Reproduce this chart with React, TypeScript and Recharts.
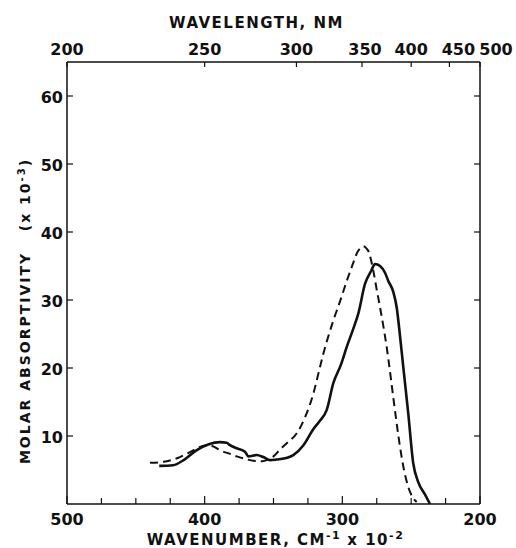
import React from "react";
import { LineChart, Line, XAxis, YAxis, Label } from "recharts";

// ---- data ----
const solidWavenumber = [433, 423, 415, 406, 397, 389, 384, 381.6, 376.7, 370.7, 368.3, 362.2, 357.4, 352.5, 347.7, 340, 335.6, 328.4, 321.1, 316, 311.4, 306.5, 301, 296.8, 292, 288.4, 283.5, 279, 276.3, 272.6, 269, 266.6, 263, 260.5, 258, 255.7, 252.1, 248.5, 245, 240, 236.3];
const solidAbsorptivity = [5.6, 5.7, 6.5, 7.9, 8.8, 9.1, 9.0, 8.65, 8.2, 7.7, 7.0, 7.2, 6.9, 6.45, 6.55, 6.8, 7.2, 8.6, 11.0, 12.3, 13.8, 17.8, 20.5, 23.1, 25.8, 28, 32.4, 34.3, 35.3, 35.0, 34.0, 32.8, 31.2, 28.9, 24.5, 20.1, 13.3, 6.0, 3.3, 1.4, 0];

const dashedWavenumber = [439.7, 430, 418, 410, 403.4, 397.4, 393, 388.9, 382, 376.7, 370, 364.7, 358, 354.9, 350, 345.3, 340, 333.1, 327, 321.1, 317, 313.8, 306.5, 301, 296.8, 292, 289.6, 286.5, 284.8, 282.5, 281.1, 277.5, 275, 272.6, 267.8, 263, 260.5, 258.1, 255, 252.1, 249, 246];
const dashedAbsorptivity = [6.05, 6.2, 6.9, 7.7, 8.4, 8.65, 8.4, 7.9, 7.4, 7.0, 6.6, 6.35, 6.3, 6.45, 7.0, 8.0, 9.0, 10.4, 12.8, 16.2, 19.5, 22.1, 27, 30.2, 32.8, 35.5, 36.8, 37.7, 37.9, 37.6, 37.2, 34.3, 31.5, 28.9, 23.1, 15.7, 11.8, 8.4, 4.8, 2.5, 1.0, 0.3];

const wavenumberTicks = [500, 475, 450, 425, 400, 375, 350, 325, 300, 275, 250, 225, 200];
const wavenumberLabels = [500, 400, 300, 200];
const wavelengthLabels = [200, 250, 300, 350, 400, 450, 500];
const yTicks = [10, 20, 30, 40, 50, 60];

const solidData = solidWavenumber.map((w, i) => ({ w, v: solidAbsorptivity[i] }));
const dashedData = dashedWavenumber.map((w, i) => ({ w, v: dashedAbsorptivity[i] }));
const wavelengthTicks = wavelengthLabels.map((nm) => 1e5 / nm);

const FONT = "'DejaVu Sans', sans-serif";
const INK = "#111";

const PLOT = { left: 67, right: 480, top: 62, bottom: 504 };

const BottomTick = (props: any) => {
  const { x, payload } = props;
  const y = PLOT.bottom;
  const major = wavenumberLabels.includes(payload.value);
  return (
    <g>
      <line x1={x} x2={x} y1={y} y2={y - (major ? 8 : 6)} stroke={INK} strokeWidth={1.2} />
      {major && (
        <text x={x} y={y + 21} textAnchor="middle" fontFamily={FONT} fontWeight="bold" fontSize={16} fill={INK}>
          {payload.value}
        </text>
      )}
    </g>
  );
};

const topLabelShift: Record<number, number> = { 350: 3, 400: 0, 450: 9, 500: 16 };

const TopTick = (props: any) => {
  const { x, payload } = props;
  const y = PLOT.top;
  const nm = Math.round(1e5 / payload.value);
  const shift = topLabelShift[nm] || 0;
  return (
    <g>
      <line x1={x} x2={x} y1={y} y2={y + 5} stroke={INK} strokeWidth={1.2} />
      <text x={x + shift} y={y - 7} textAnchor="middle" fontFamily={FONT} fontWeight="bold" fontSize={16} fill={INK}>
        {nm}
      </text>
    </g>
  );
};

const LeftTick = (props: any) => {
  const { y, payload } = props;
  const x = PLOT.left;
  return (
    <g>
      <line x1={x} x2={x + 6} y1={y} y2={y} stroke={INK} strokeWidth={1.2} />
      <text x={x - 4} y={y + 7} textAnchor="end" fontFamily={FONT} fontWeight="bold" fontSize={16} fill={INK}>
        {payload.value}
      </text>
    </g>
  );
};

const RightTick = (props: any) => {
  const { y } = props;
  const x = PLOT.right;
  return <line x1={x} x2={x - 6} y1={y} y2={y} stroke={INK} strokeWidth={1.2} />;
};

const BottomTitle = () => {
  const cx = (PLOT.left + PLOT.right) / 2 + 2;
  return (
    <text x={cx} y={PLOT.bottom + 41} textAnchor="middle" fontFamily={FONT} fontWeight="bold" fontSize={15} letterSpacing={1.5} fill={INK}>
      WAVENUMBER, CM
      <tspan dy={-6} fontSize={11}>-1</tspan>
      <tspan dy={6} dx={6}>x 10</tspan>
      <tspan dy={-6} fontSize={11}>-2</tspan>
    </text>
  );
};

const TopTitle = () => {
  const cx = (PLOT.left + PLOT.right) / 2 - 17;
  return (
    <text x={cx} y={28} textAnchor="middle" fontFamily={FONT} fontWeight="bold" fontSize={15} letterSpacing={1.5} fill={INK}>
      WAVELENGTH, NM
    </text>
  );
};

const LeftTitle = () => {
  const cx = 30;
  const cy = 311;
  return (
    <text x={cx} y={cy} transform={`rotate(-90 ${cx} ${cy})`} textAnchor="middle" fontFamily={FONT} fontWeight="bold" fontSize={14} letterSpacing={2} fill={INK}>
      MOLAR ABSORPTIVITY{"\u00a0\u00a0\u00a0"}(x 10
      <tspan dy={-5} fontSize={10}>-3</tspan>
      <tspan dy={5}>)</tspan>
    </text>
  );
};

export default function App() {
  return (
    <div style={{ position: "absolute", left: 0, top: 0, width: 516, height: 548, background: "#fff" }}>
      <LineChart width={516} height={548} margin={{ top: 61, right: 35, bottom: 43, left: 66 }}>
        <XAxis
          xAxisId="bottom"
          dataKey="w"
          type="number"
          domain={[200, 500]}
          reversed
          orientation="bottom"
          height={1}
          ticks={wavenumberTicks}
          interval={0}
          tickSize={0}
          tickMargin={0}
          tickLine={false}
          tick={<BottomTick />}
          axisLine={{ stroke: INK, strokeWidth: 1.5 }}
          allowDataOverflow
        >
          <Label content={<BottomTitle />} />
        </XAxis>
        <XAxis
          xAxisId="top"
          dataKey="w"
          type="number"
          domain={[200, 500]}
          reversed
          orientation="top"
          height={1}
          ticks={wavelengthTicks}
          interval={0}
          tickSize={0}
          tickMargin={0}
          tickLine={false}
          tick={<TopTick />}
          axisLine={{ stroke: INK, strokeWidth: 1.5 }}
          allowDataOverflow
        >
          <Label content={<TopTitle />} />
        </XAxis>
        <YAxis
          yAxisId="left"
          type="number"
          domain={[0, 65]}
          orientation="left"
          width={1}
          ticks={yTicks}
          interval={0}
          tickSize={0}
          tickMargin={0}
          tickLine={false}
          tick={<LeftTick />}
          axisLine={{ stroke: INK, strokeWidth: 1.5 }}
          allowDataOverflow
        >
          <Label content={<LeftTitle />} />
        </YAxis>
        <YAxis
          yAxisId="right"
          type="number"
          domain={[0, 65]}
          orientation="right"
          width={1}
          ticks={yTicks}
          interval={0}
          tickSize={0}
          tickMargin={0}
          tickLine={false}
          tick={<RightTick />}
          axisLine={{ stroke: INK, strokeWidth: 1.5 }}
          allowDataOverflow
        />
        <Line
          xAxisId="bottom"
          yAxisId="left"
          data={dashedData}
          dataKey="v"
          type="monotone"
          stroke={INK}
          strokeWidth={2}
          strokeDasharray="8 5"
          dot={false}
          isAnimationActive={false}
        />
        <Line
          xAxisId="bottom"
          yAxisId="left"
          data={solidData}
          dataKey="v"
          type="monotone"
          stroke={INK}
          strokeWidth={2.6}
          dot={false}
          isAnimationActive={false}
        />
      </LineChart>
    </div>
  );
}
